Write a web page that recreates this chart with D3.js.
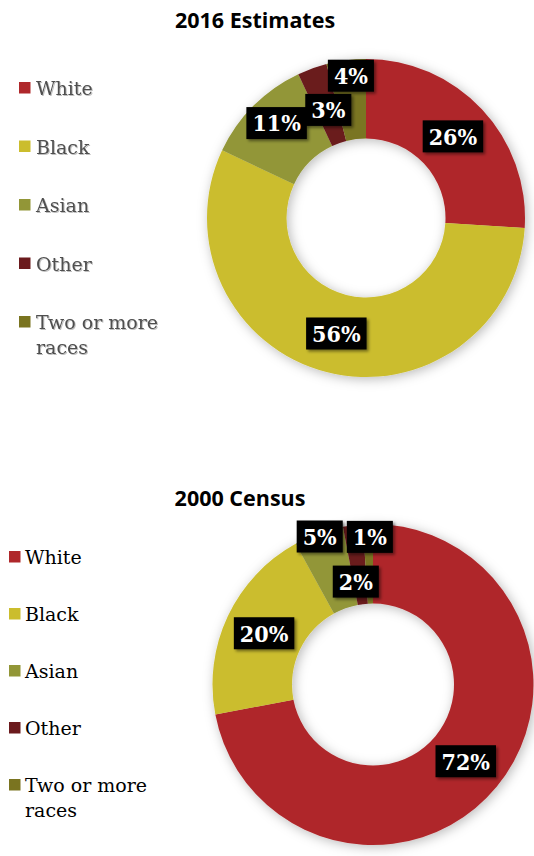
<!DOCTYPE html>
<html>
<head>
<meta charset="utf-8">
<script src="https://cdn.jsdelivr.net/npm/d3@7"></script>
<style>
  html, body { margin: 0; padding: 0; background: #fff; }
  svg { display: block; }
</style>
</head>
<body>
<svg id="chart" width="534" height="856"></svg>
<script>
// Racial composition, two donut charts
const categories = ["White", "Black", "Asian", "Other", "Two or more races"];
const values2016 = [26, 56, 11, 3, 4];
const values2000 = [72, 20, 5, 2, 1];
const titles = ["2016 Estimates", "2000 Census"];
const sliceColors = ["#AF282B", "#CBBD2D", "#929637", "#6B1A1D", "#7A7420"];

const svg = d3.select("#chart");
const defs = svg.append("defs");

// soft glow around each ring
const ringShadow = defs.append("filter").attr("id", "ringShadow")
  .attr("x", "-20%").attr("y", "-20%").attr("width", "140%").attr("height", "140%");
ringShadow.append("feDropShadow").attr("dx", 2).attr("dy", 2)
  .attr("stdDeviation", 6).attr("flood-color", "#000").attr("flood-opacity", 0.28);

// small offset shadow behind the value boxes
const boxShadow = defs.append("filter").attr("id", "boxShadow")
  .attr("x", "-30%").attr("y", "-30%").attr("width", "160%").attr("height", "160%");
boxShadow.append("feDropShadow").attr("dx", 2).attr("dy", 2)
  .attr("stdDeviation", 1.5).attr("flood-color", "#000").attr("flood-opacity", 0.45);

const legendShadow = defs.append("filter").attr("id", "legendShadow");
legendShadow.append("feDropShadow").attr("dx", 1).attr("dy", 1)
  .attr("stdDeviation", 0.6).attr("flood-color", "#000").attr("flood-opacity", 0.25);

const color = d3.scaleOrdinal().domain(categories).range(sliceColors);

const panels = [
  {
    title: titles[0], values: values2016,
    titleX: 255, titleY: 28,
    cx: 366, cy: 218, outer: 159, inner: 79.5,
    legendSquareX: 19, legendTextX: 36, legendY: 95, legendStep: 58.5,
    legendColor: "#505050", legendFilter: "url(#legendShadow)",
    labelRadius: [0.75, 0.75, 0.82, 0.72, 0.9],
    labelAngleShift: [0, 0, 0.03, 0.01, 0.02]
  },
  {
    title: titles[1], values: values2000,
    titleX: 240, titleY: 506,
    cx: 373, cy: 684.5, outer: 160.5, inner: 81,
    legendSquareX: 9, legendTextX: 25, legendY: 564, legendStep: 57,
    legendColor: "#000", legendFilter: null,
    labelRadius: [0.75, 0.75, 0.98, 0.65, 0.92],
    labelAngleShift: [0, 0, 0, -0.04, 0.01]
  }
];

const pie = d3.pie().sort(null).value(d => d.value);

panels.forEach(p => {
  const rows = categories.map((c, i) => ({ category: c, value: p.values[i] }));
  const arcs = pie(rows);
  const arc = d3.arc().innerRadius(p.inner).outerRadius(p.outer);

  // title
  svg.append("text")
    .attr("x", p.titleX).attr("y", p.titleY)
    .attr("text-anchor", "middle")
    .attr("font-family", "'Open Sans', sans-serif")
    .attr("font-weight", "bold")
    .attr("font-size", 21.5)
    .attr("fill", "#000")
    .text(p.title);

  // ring
  const ring = svg.append("g")
    .attr("transform", `translate(${p.cx},${p.cy})`)
    .attr("filter", "url(#ringShadow)");
  ring.selectAll("path").data(arcs).join("path")
    .attr("d", arc)
    .attr("fill", d => color(d.data.category));

  // value boxes
  const labels = svg.append("g").attr("transform", `translate(${p.cx},${p.cy})`);
  arcs.forEach((d, i) => {
    const a = (d.startAngle + d.endAngle) / 2 + p.labelAngleShift[i];
    const r = p.outer * p.labelRadius[i];
    const x = r * Math.sin(a), y = -r * Math.cos(a);
    const g = labels.append("g").attr("transform", `translate(${x},${y})`);
    const rect = g.append("rect").attr("fill", "#000").attr("filter", "url(#boxShadow)");
    const t = g.append("text")
      .attr("text-anchor", "middle")
      .attr("dy", "0.36em")
      .attr("font-family", "'DejaVu Serif', serif")
      .attr("font-stretch", "condensed")
      .attr("font-weight", "bold")
      .attr("font-size", 23)
      .attr("fill", "#fff")
      .text(`${d.data.value}%`);
    const w = t.node().getComputedTextLength();
    rect.attr("x", -w / 2 - 6).attr("y", -16).attr("width", w + 12).attr("height", 32);
  });

  // legend
  const legend = svg.append("g");
  categories.forEach((c, i) => {
    const by = p.legendY + i * p.legendStep;
    legend.append("rect")
      .attr("x", p.legendSquareX).attr("y", by - 13)
      .attr("width", 11.5).attr("height", 11.5)
      .attr("fill", color(c));
    const t = legend.append("text")
      .attr("x", p.legendTextX).attr("y", by)
      .attr("font-family", "'DejaVu Serif', serif")
      .attr("font-size", 19)
      .attr("fill", p.legendColor)
      .attr("filter", p.legendFilter);
    // wrap long names onto a second line
    const words = c.split(" ");
    let line = [], tspan = t.append("tspan").attr("x", p.legendTextX);
    words.forEach(wd => {
      line.push(wd);
      tspan.text(line.join(" "));
      if (tspan.node().getComputedTextLength() > 135 && line.length > 1) {
        line.pop();
        tspan.text(line.join(" "));
        line = [wd];
        tspan = t.append("tspan").attr("x", p.legendTextX).attr("dy", 25).text(wd);
      }
    });
  });
});
</script>
</body>
</html>
